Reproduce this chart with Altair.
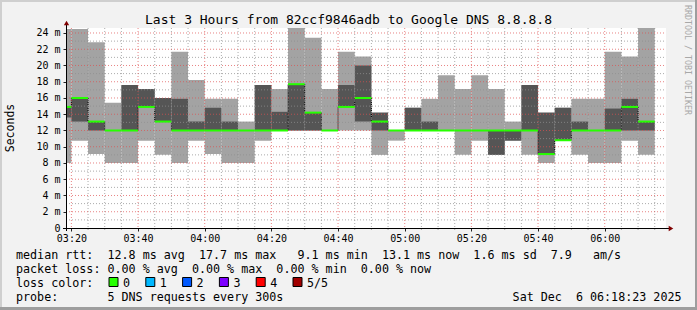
import altair as alt
import pandas as pd

# ---------------- data ----------------
title_text = "Last 3 Hours from 82ccf9846adb to Google DNS 8.8.8.8"
view_start = "03:18:23"
view_end = "06:18:23"

interval_start = ["03:18:23", "03:20", "03:25", "03:30", "03:35", "03:40", "03:45", "03:50", "03:55",
                  "04:00", "04:05", "04:10", "04:15", "04:20", "04:25", "04:30", "04:35",
                  "04:40", "04:45", "04:50", "04:55", "05:00", "05:05", "05:10", "05:15",
                  "05:20", "05:25", "05:30", "05:35", "05:40", "05:45", "05:50", "05:55",
                  "06:00", "06:05", "06:10"]
interval_end = interval_start[1:] + ["06:15"]

# smoke: lowest ping, 2nd ping, median, 4th ping, highest ping (ms)
ping_min = [8.0, 10.75, 9.1, 8.0, 8.0, 10.75, 9.0, 8.0, 10.75, 9.1, 8.0, 8.0, 10.75, 12.0, 12.0, 12.0,
            12.0, 12.0, 12.0, 9.0, 10.75, 12.0, 12.0, 12.0, 9.0, 10.75, 9.0, 10.75, 9.0, 8.0, 10.8,
            9.0, 8.0, 8.0, 10.75, 9.0]
ping_low = [13.6, 13.1, 12.0, 12.0, 12.0, 14.9, 13.1, 12.0, 12.0, 12.0, 12.0, 12.0, 12.0, 12.0, 12.0,
            12.0, 12.0, 14.9, 13.1, 12.0, 12.0, 12.0, 12.0, 12.0, 12.0, 12.0, 9.0, 10.75, 12.0, 9.1,
            10.8, 12.0, 12.0, 12.0, 12.0, 12.0]
ping_median = [14.9, 16.0, 13.1, 12.0, 12.0, 14.9, 13.1, 12.0, 12.0, 12.0, 12.0, 12.0, 12.0, 12.0, 17.7,
               14.2, 12.0, 14.9, 16.0, 13.1, 12.0, 12.0, 12.0, 12.0, 12.0, 12.0, 12.0, 12.0, 12.0, 9.1,
               10.8, 12.0, 12.0, 12.0, 14.9, 13.1]
ping_high = [14.9, 16.0, 13.1, 12.0, 17.6, 17.1, 16.0, 15.9, 13.1, 14.8, 13.1, 12.0, 17.6, 14.3, 17.7,
             14.2, 12.0, 17.6, 20.0, 14.2, 12.0, 14.8, 13.1, 12.0, 12.0, 12.0, 12.0, 12.0, 17.6, 14.2,
             14.8, 13.1, 12.0, 14.7, 15.9, 13.1]
ping_max = [24.5, 24.5, 22.85, 15.4, 17.6, 17.1, 16.0, 21.7, 18.2, 15.9, 15.9, 13.1, 17.6, 17.1, 24.6,
            23.4, 17.1, 21.7, 21.1, 14.2, 12.0, 14.8, 15.9, 18.8, 17.1, 18.8, 17.1, 13.1, 17.6, 14.2,
            14.8, 15.9, 15.9, 21.7, 21.1, 24.6]

x_tick_labels = ["03:20", "03:40", "04:00", "04:20", "04:40", "05:00", "05:20", "05:40", "06:00"]
y_major_values = [2, 4, 6, 8, 10, 12, 14, 16, 18, 20, 22, 24]
y_minor_values = [1, 3, 5, 7, 9, 11, 13, 15, 17, 19, 21, 23]
y_label_values = [0] + y_major_values

legend_line1 = "median rtt:  12.8 ms avg  17.7 ms max   9.1 ms min  13.1 ms now  1.6 ms sd  7.9   am/s"
legend_line2 = "packet loss: 0.00 % avg  0.00 % max  0.00 % min  0.00 % now"
legend_line3 = "loss color:"
legend_line4 = "probe:       5 DNS requests every 300s"
date_text = "Sat Dec  6 06:18:23 2025"
credit_text = "RRDTOOL / TOBI OETIKER"
loss_labels = ["0", "1", "2", "3", "4", "5/5"]
loss_colors = ["#26ff00", "#00b8ff", "#0059ff", "#7e00ff", "#ff0000", "#a10000"]

# ---------------- helpers ----------------
FONT = "DejaVu Sans Mono"
NB = "\u00a0"
W, H = 600, 200
OX, OY = 66, 28
LIGHT = "#a3a3a3"
DARK = "#555555"
GREEN = "#26ff00"


def to_min(s):
    p = [int(v) for v in s.split(":")]
    return p[0] * 60 + p[1] + (p[2] / 60.0 if len(p) > 2 else 0.0)


def nb(s):
    return s.replace(" ", NB)


x0, x1 = to_min(view_start), to_min(view_end)
YMAX = 24.615
xs = alt.Scale(domain=[x0, x1], nice=False, zero=False)
ys = alt.Scale(domain=[0, YMAX], nice=False, zero=False)

bars = pd.DataFrame({
    "t0": [to_min(s) for s in interval_start],
    "t1": [to_min(s) for s in interval_end],
    "lo": ping_min, "dlo": ping_low, "med": ping_median, "dhi": ping_high, "hi": ping_max,
})

conn = pd.DataFrame({
    "t": [to_min(interval_start[i]) for i in range(1, len(interval_start))],
    "a": [ping_median[i - 1] for i in range(1, len(interval_start))],
    "b": [ping_median[i] for i in range(1, len(interval_start))],
})
conn = conn[conn.a != conn.b]

major_x = [to_min(s) for s in x_tick_labels]
all_x = sorted(set([to_min(s) for s in interval_start[1:]] + [to_min(interval_end[-1])]))
minor_x = [v for v in all_x if v not in major_x]

x_label_expr = ("pad(floor(datum.value/60)+'',2,'0','left')+':'+"
                "pad(round(datum.value%60)+'',2,'0','left')")
y_label_expr = f"datum.value == 0 ? '0{NB}{NB}' : datum.value + '{NB}m'"

x_axis = alt.Axis(values=major_x, labelExpr=x_label_expr, title=None, grid=False, domain=False,
                  tickSize=3, tickColor="#212121", labelFont=FONT, labelFontSize=10,
                  labelColor="#000000", labelPadding=2, labelFlush=False, labelOverlap=False)
y_axis = alt.Axis(values=y_label_values, labelExpr=y_label_expr, title=None, grid=False,
                  domain=False, tickSize=3, tickColor="#212121", labelFont=FONT,
                  labelFontSize=10, labelColor="#000000", labelPadding=3, labelOverlap=False)


def X(f):
    return alt.X(f, scale=xs, axis=x_axis)


def Y(f):
    return alt.Y(f, scale=ys, axis=y_axis)


light = alt.Chart(bars).mark_rect(color=LIGHT).encode(
    x=X("t0:Q"), x2="t1:Q", y=Y("lo:Q"), y2="hi:Q")
dark = alt.Chart(bars).mark_rect(color=DARK).encode(
    x=X("t0:Q"), x2="t1:Q", y=Y("dlo:Q"), y2="dhi:Q")
connectors = alt.Chart(conn).mark_rule(color="#000000", strokeDash=[1, 1], strokeWidth=1).encode(
    x=X("t:Q"), y=Y("a:Q"), y2="b:Q")
median_line = alt.Chart(bars).mark_rule(color=GREEN, strokeWidth=2).encode(
    x=X("t0:Q"), x2="t1:Q", y=Y("med:Q"))

GRID_DASH = [1, 2]
MINOR_C, MINOR_O = "#8f8f8f", 0.75
MAJOR_C, MAJOR_O = "#de5050", 0.7
grid_minor_y = alt.Chart(pd.DataFrame({"v": y_minor_values})).mark_rule(
    color=MINOR_C, opacity=MINOR_O, strokeDash=GRID_DASH, strokeWidth=1).encode(
    y=Y("v:Q"), x=alt.value(0), x2=alt.value(W))
grid_major_y = alt.Chart(pd.DataFrame({"v": y_major_values})).mark_rule(
    color=MAJOR_C, opacity=MAJOR_O, strokeDash=GRID_DASH, strokeWidth=1).encode(
    y=Y("v:Q"), x=alt.value(0), x2=alt.value(W))
grid_minor_x = alt.Chart(pd.DataFrame({"v": minor_x})).mark_rule(
    color=MINOR_C, opacity=MINOR_O, strokeDash=GRID_DASH, strokeWidth=1).encode(
    x=X("v:Q"), y=alt.value(0), y2=alt.value(H + 2))
grid_major_x = alt.Chart(pd.DataFrame({"v": major_x})).mark_rule(
    color=MAJOR_C, opacity=MAJOR_O, strokeDash=GRID_DASH, strokeWidth=1).encode(
    x=X("v:Q"), y=alt.value(0), y2=alt.value(H))

one = pd.DataFrame({"k": [0]})
x_axis_line = alt.Chart(one).mark_rule(color="#000000", strokeWidth=1).encode(
    x=alt.value(-3), x2=alt.value(W + 4), y=alt.value(H + 0.5))
y_axis_line = alt.Chart(one).mark_rule(color="#000000", strokeWidth=1).encode(
    x=alt.value(0.5), y=alt.value(H + 3), y2=alt.value(-4))
arrow_up = alt.Chart(one).mark_point(shape="triangle-up", filled=True, color="#800000",
                                     opacity=1, size=28).encode(
    x=alt.value(0.5), y=alt.value(-5))
arrow_right = alt.Chart(one).mark_point(shape="triangle-right", filled=True, color="#800000",
                                        opacity=1, size=28).encode(
    x=alt.value(W + 5), y=alt.value(H + 0.5))


def text_layer(s, x, y, size, align="left", baseline="alphabetic", angle=0, color="#000000"):
    return alt.Chart(pd.DataFrame({"s": [nb(s)]})).mark_text(
        font=FONT, fontSize=size, align=align, baseline=baseline, angle=angle, color=color
    ).encode(text="s:N", x=alt.value(x), y=alt.value(y))


title = text_layer(title_text, 348.5 - OX, 24 - OY, 13, align="center")
ytitle = text_layer("Seconds", 11 - OX, 128 - OY, 11.5, align="center", baseline="middle", angle=270)
credit = text_layer(credit_text, 686.5 - OX, 60 - OY, 8.3, align="center", baseline="middle",
                    angle=90, color="#a8a8a8")
l1 = text_layer(legend_line1, 16 - OX, 258.5 - OY, 11.7)
l2 = text_layer(legend_line2, 16 - OX, 272.6 - OY, 11.7)
l3 = text_layer(legend_line3, 16 - OX, 286.7 - OY, 11.7)
l4 = text_layer(legend_line4, 16 - OX, 300.8 - OY, 11.7)
ldate = text_layer(date_text, 681.5 - OX, 300.8 - OY, 11.7, align="right")

loss_layers = []
for i, (lab, col) in enumerate(zip(loss_labels, loss_colors)):
    bx = 109 - OX + 36.8 * i
    loss_layers.append(
        alt.Chart(one).mark_rect(fill=col, stroke="#000000", strokeWidth=1).encode(
            x=alt.value(bx), x2=alt.value(bx + 9), y=alt.value(277.5 - OY), y2=alt.value(286.5 - OY)))
    loss_layers.append(text_layer(lab, bx + 14, 286.7 - OY, 11.7))

# frame
frame_top = alt.Chart(one).mark_rule(color="#cfcfcf", strokeWidth=2).encode(
    x=alt.value(-OX), x2=alt.value(697 - OX), y=alt.value(-OY + 1))
frame_left = alt.Chart(one).mark_rule(color="#cfcfcf", strokeWidth=2).encode(
    x=alt.value(-OX + 1), y=alt.value(-OY), y2=alt.value(310 - OY))
frame_right = alt.Chart(one).mark_rule(color="#9e9e9e", strokeWidth=2).encode(
    x=alt.value(697 - OX - 1), y=alt.value(-OY), y2=alt.value(310 - OY))
frame_bottom = alt.Chart(one).mark_rule(color="#9e9e9e", strokeWidth=3).encode(
    x=alt.value(-OX), x2=alt.value(697 - OX), y=alt.value(310 - OY - 1.5))

chart = alt.layer(
    light, dark, connectors,
    grid_minor_y, grid_minor_x, grid_major_y, grid_major_x,
    median_line,
    x_axis_line, y_axis_line, arrow_up, arrow_right,
    title, ytitle, credit, l1, l2, l3, l4, ldate, *loss_layers,
    frame_top, frame_left, frame_right, frame_bottom,
).properties(
    width=W, height=H,
    autosize=alt.AutoSizeParams(type="none"),
    padding={"left": OX, "top": OY, "right": 697 - OX - W, "bottom": 310 - OY - H},
    background="#f2f2f2",
).configure_view(stroke=None, fill="#ffffff")

chart.save("out.html", embed_options={"renderer": "svg", "actions": False})
